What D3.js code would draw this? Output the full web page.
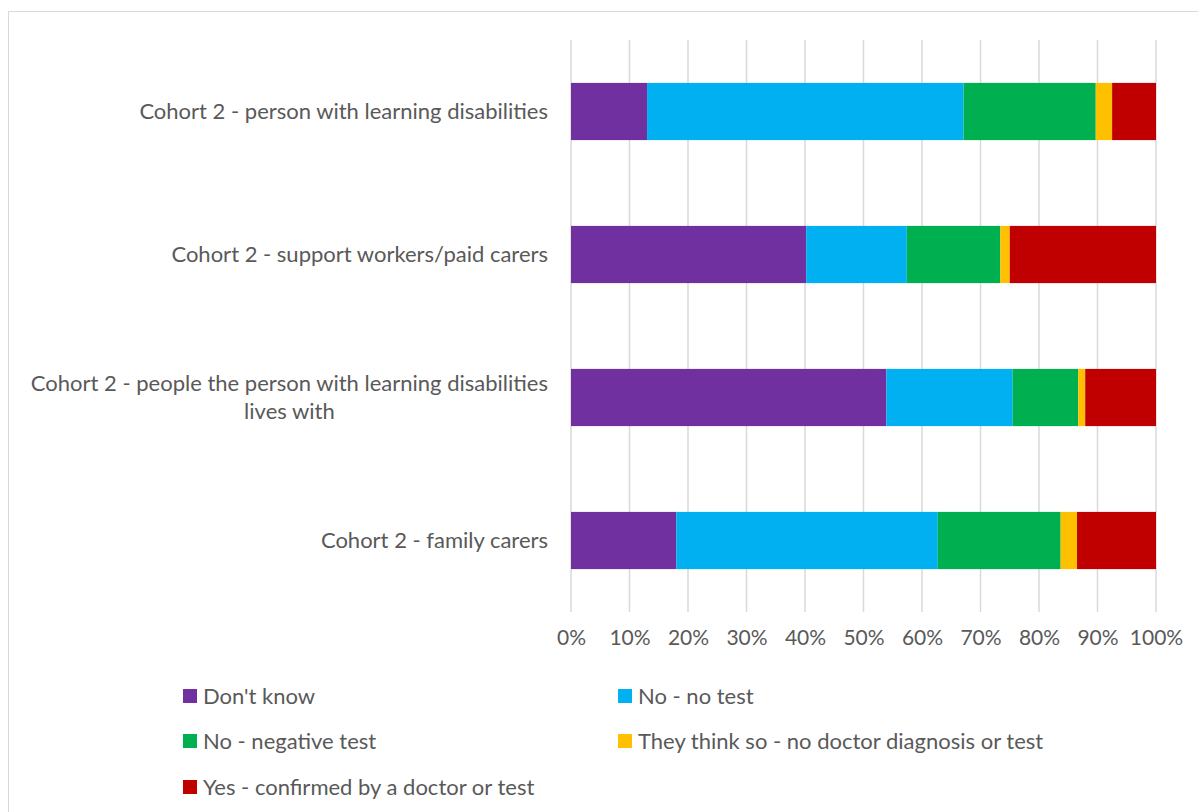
<!DOCTYPE html>
<html>
<head>
<meta charset="utf-8">
<script src="https://cdn.jsdelivr.net/npm/d3@7"></script>
<style>
  html, body { margin: 0; padding: 0; background: #fff; }
  svg { display: block; }
  text { font-family: Lato, "Open Sans", sans-serif; fill: #595959; }
</style>
</head>
<body>
<svg id="chart" width="1198" height="812"></svg>
<script>
// ---- data ----
const categories = [
  "Cohort 2 - person with learning disabilities",
  "Cohort 2 - support workers/paid carers",
  "Cohort 2 - people the person with learning disabilities lives with",
  "Cohort 2 - family carers"
];
const seriesNames = [
  "Don't know",
  "No - no test",
  "No - negative test",
  "They think so - no doctor diagnosis or test",
  "Yes - confirmed by a doctor or test"
];
const dontKnow      = [13.0, 40.2, 53.9, 18.0];
const noNoTest      = [54.1, 17.2, 21.6, 44.7];
const noNegative    = [22.6, 16.0, 11.2, 21.0];
const thinkSo       = [2.8, 1.6, 1.2, 2.8];
const yesConfirmed  = [7.5, 25.0, 12.1, 13.5];
const tickValues = [0, 10, 20, 30, 40, 50, 60, 70, 80, 90, 100];
const colors = ["#7030A0", "#00B0F0", "#00B050", "#FFC000", "#C00000"];

// ---- build table ----
const seriesValues = [dontKnow, noNoTest, noNegative, thinkSo, yesConfirmed];
const table = categories.map((c, i) => {
  const row = { category: c };
  seriesNames.forEach((s, j) => row[s] = seriesValues[j][i]);
  return row;
});
const stacked = d3.stack().keys(seriesNames)(table);

const svg = d3.select("#chart");
const fontSize = 22;
const tickFontSize = 21;

// chart border
svg.append("rect")
  .attr("x", 8.5).attr("y", 11.5)
  .attr("width", 1198).attr("height", 812)
  .attr("fill", "none").attr("stroke", "#d9d9d9").attr("stroke-width", 1);

const x = d3.scaleLinear().domain([0, 100]).range([571, 1156]);
const y = d3.scaleBand().domain(categories).range([40, 612])
  .paddingInner(0.6).paddingOuter(0.3);

// gridlines
svg.append("g").selectAll("line").data(tickValues).join("line")
  .attr("x1", d => x(d)).attr("x2", d => x(d))
  .attr("y1", 40).attr("y2", 612)
  .attr("stroke", "#d9d9d9").attr("stroke-width", 1.5);

// bars
svg.append("g").selectAll("g").data(stacked).join("g")
  .attr("fill", (d, i) => colors[i])
  .selectAll("rect").data(d => d).join("rect")
  .attr("x", d => x(d[0]))
  .attr("width", d => x(d[1]) - x(d[0]))
  .attr("y", d => y(d.data.category))
  .attr("height", y.bandwidth());

// x axis labels
const xAxis = d3.axisBottom(x).tickValues(tickValues).tickFormat(d => d + "%").tickSize(0).tickPadding(0);
const gx = svg.append("g").attr("transform", "translate(0,630)").call(xAxis);
gx.select(".domain").remove();
gx.selectAll("text").attr("font-size", tickFontSize).attr("fill", "#595959")
  .attr("font-family", "Lato, 'Open Sans', sans-serif").attr("dy", "0.71em");

// y labels (with wrapping for long one)
const maxLabelWidth = 540;
const gy = svg.append("g");
categories.forEach(c => {
  const cy = y(c) + y.bandwidth() / 2;
  const t = gy.append("text").attr("font-size", fontSize).attr("text-anchor", "end")
    .attr("x", 548).attr("y", cy).attr("dy", "0.35em").text(c);
  if (t.node().getComputedTextLength() > maxLabelWidth) {
    t.remove();
    const words = c.split(" ");
    const line2 = words.slice(-2).join(" ");
    const line1 = words.slice(0, -2).join(" ");
    const tmp = gy.append("text").attr("font-size", fontSize).text(line1);
    const w1 = tmp.node().getComputedTextLength();
    tmp.remove();
    const center = 548 - w1 / 2;
    gy.append("text").attr("font-size", fontSize).attr("text-anchor", "middle")
      .attr("x", center).attr("y", cy - 14).attr("dy", "0.35em").text(line1);
    gy.append("text").attr("font-size", fontSize).attr("text-anchor", "middle")
      .attr("x", center).attr("y", cy + 14).attr("dy", "0.35em").text(line2);
  }
});

// legend
const legendPos = [[183, 696], [618, 696], [183, 741], [618, 741], [183, 787]];
const lg = svg.append("g");
seriesNames.forEach((s, i) => {
  const [lx, ly] = legendPos[i];
  lg.append("rect").attr("x", lx).attr("y", ly - 7).attr("width", 14).attr("height", 14).attr("fill", colors[i]);
  lg.append("text").attr("x", lx + 20).attr("y", ly).attr("dy", "0.35em")
    .attr("font-size", fontSize).text(s);
});
</script>
</body>
</html>
